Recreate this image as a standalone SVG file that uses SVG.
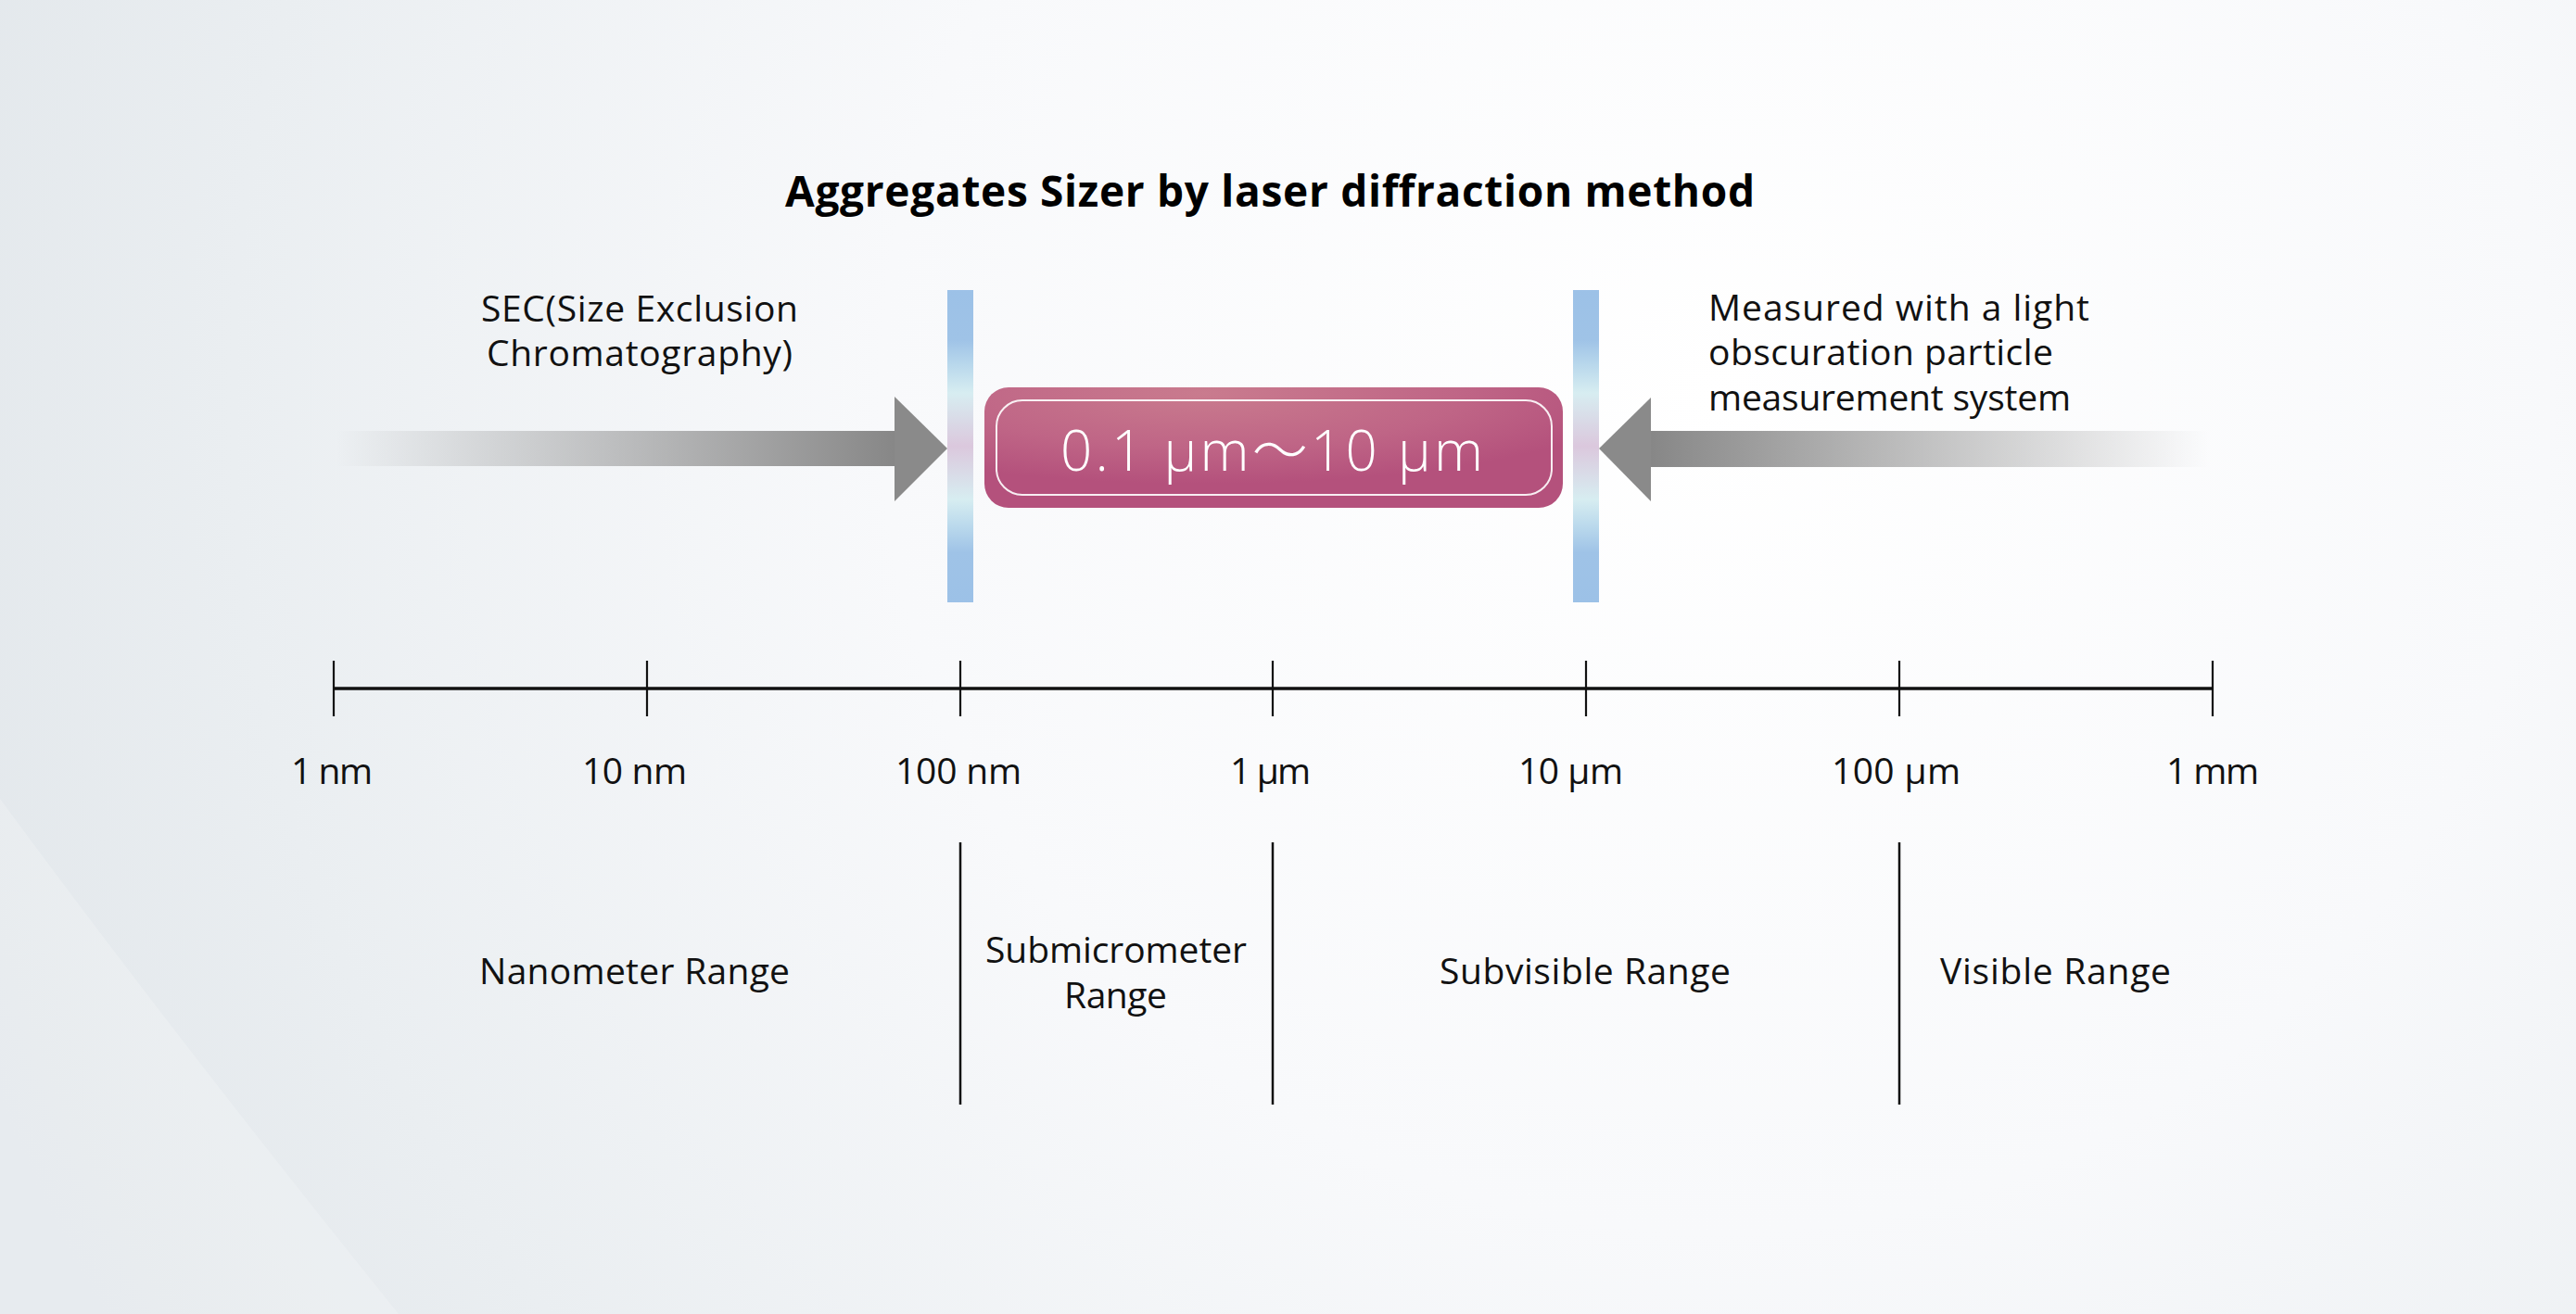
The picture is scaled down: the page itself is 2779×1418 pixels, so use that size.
<svg xmlns="http://www.w3.org/2000/svg" width="2779" height="1418" viewBox="0 0 2779 1418">
  <defs>
    <style>
      .lbl { font-family: "Open Sans", "Noto Sans", "DejaVu Sans", sans-serif; font-size: 39px; fill: #111111; }
      .title { font-family: "Open Sans", "Noto Sans", "DejaVu Sans", sans-serif; font-size: 46px; font-weight: bold; fill: #000000; }
      .boxtxt { font-family: "Open Sans", "Noto Sans", "Noto Sans CJK JP", sans-serif; font-size: 60px; font-weight: 300; fill: #ffffff; }
      .tick { stroke: #111111; stroke-width: 2.2; }
      .sep { stroke: #111111; stroke-width: 2.5; }
    </style>
    <radialGradient id="bgGrad" gradientUnits="userSpaceOnUse" cx="1850" cy="430" r="2000">
      <stop offset="0" stop-color="#ffffff"/>
      <stop offset="0.45" stop-color="#f8f9fb"/>
      <stop offset="0.8" stop-color="#eaeef1"/>
      <stop offset="1" stop-color="#e2e7eb"/>
    </radialGradient>
    <linearGradient id="shaftL" gradientUnits="userSpaceOnUse" x1="363" y1="0" x2="965" y2="0">
      <stop offset="0" stop-color="#878787" stop-opacity="0"/>
      <stop offset="1" stop-color="#878787" stop-opacity="1"/>
    </linearGradient>
    <linearGradient id="shaftR" gradientUnits="userSpaceOnUse" x1="2382" y1="0" x2="1781" y2="0">
      <stop offset="0" stop-color="#878787" stop-opacity="0"/>
      <stop offset="1" stop-color="#878787" stop-opacity="1"/>
    </linearGradient>
    <linearGradient id="barGrad" x1="0" y1="0" x2="0" y2="1">
      <stop offset="0" stop-color="#9cc1e7"/>
      <stop offset="0.16" stop-color="#9fc3e7"/>
      <stop offset="0.24" stop-color="#b9d8ec"/>
      <stop offset="0.33" stop-color="#d7edf1"/>
      <stop offset="0.5" stop-color="#dbc8dd"/>
      <stop offset="0.67" stop-color="#d7edf1"/>
      <stop offset="0.76" stop-color="#b9d8ec"/>
      <stop offset="0.84" stop-color="#9fc3e7"/>
      <stop offset="1" stop-color="#9cc1e7"/>
    </linearGradient>
    <radialGradient id="boxGrad" cx="0.38" cy="0.05" r="0.75">
      <stop offset="0" stop-color="#c97b8e"/>
      <stop offset="0.6" stop-color="#bf6586"/>
      <stop offset="1" stop-color="#b4517c"/>
    </radialGradient>
  </defs>

  <g id="background">
    <rect x="0" y="0" width="2779" height="1418" fill="url(#bgGrad)"/>
    <path d="M0 862 Q 190 1120 430 1418 L 0 1418 Z" fill="#ffffff" fill-opacity="0.2"/>
  </g>

  <g id="title">
    <text class="title" x="847" y="223" textLength="1046">Aggregates Sizer by laser diffraction method</text>
  </g>

  <g id="sec-label">
    <text class="lbl"><tspan x="519" y="347" textLength="342">SEC(Size Exclusion</tspan><tspan x="525" y="395" textLength="330">Chromatography)</tspan></text>
  </g>

  <g id="obscuration-label">
    <text class="lbl"><tspan x="1843" y="346" textLength="411">Measured with a light</tspan><tspan x="1843" y="394" textLength="372">obscuration particle</tspan><tspan x="1843" y="443" textLength="391">measurement system</tspan></text>
  </g>

  <g id="connectors">
    <g id="arrow-left">
      <rect x="363" y="465" width="603" height="38" fill="url(#shaftL)"/>
      <polygon points="965,428 1022,484 965,541" fill="#8a8a8a"/>
    </g>
    <g id="arrow-right">
      <rect x="1780" y="465" width="602" height="39" fill="url(#shaftR)"/>
      <polygon points="1781,429 1725,484 1781,541" fill="#8a8a8a"/>
    </g>
  </g>

  <g id="bar-left">
    <rect x="1022" y="313" width="28" height="337" fill="url(#barGrad)"/>
  </g>
  <g id="bar-right">
    <rect x="1697" y="313" width="28" height="337" fill="url(#barGrad)"/>
  </g>

  <g id="range-box">
    <rect x="1062" y="418" width="624" height="130" rx="26" ry="26" fill="url(#boxGrad)"/>
    <rect x="1075" y="432" width="599" height="102" rx="28" ry="28" fill="none" stroke="#ffffff" stroke-width="2" stroke-opacity="0.9"/>
    <text class="boxtxt" x="1144" y="508" textLength="456">0.1 μm～10 μm</text>
  </g>

  <g id="axis">
    <line x1="360" y1="743" x2="2387" y2="743" stroke="#111111" stroke-width="3.5"/>
    <line class="tick" x1="360" y1="713" x2="360" y2="773"/>
    <line class="tick" x1="698" y1="713" x2="698" y2="773"/>
    <line class="tick" x1="1036" y1="713" x2="1036" y2="773"/>
    <line class="tick" x1="1373" y1="713" x2="1373" y2="773"/>
    <line class="tick" x1="1711" y1="713" x2="1711" y2="773"/>
    <line class="tick" x1="2049" y1="713" x2="2049" y2="773"/>
    <line class="tick" x1="2387" y1="713" x2="2387" y2="773"/>
  </g>

  <g id="tick-labels">
    <text class="lbl" x="314" y="846" textLength="88">1 nm</text>
    <text class="lbl" x="628" y="846" textLength="113">10 nm</text>
    <text class="lbl" x="966" y="846" textLength="136">100 nm</text>
    <text class="lbl" x="1327" y="846" textLength="87">1 μm</text>
    <text class="lbl" x="1638" y="846" textLength="113">10 μm</text>
    <text class="lbl" x="1976" y="846" textLength="139">100 μm</text>
    <text class="lbl" x="2337" y="846" textLength="100">1 mm</text>
  </g>

  <g id="range-separators">
    <line class="sep" x1="1036" y1="909" x2="1036" y2="1192"/>
    <line class="sep" x1="1373" y1="909" x2="1373" y2="1192"/>
    <line class="sep" x1="2049" y1="909" x2="2049" y2="1192"/>
  </g>

  <g id="range-nanometer">
    <text class="lbl" x="517" y="1062" textLength="335">Nanometer Range</text>
  </g>
  <g id="range-submicrometer">
    <text class="lbl"><tspan x="1063" y="1039" textLength="282">Submicrometer</tspan><tspan x="1148" y="1088" textLength="111">Range</tspan></text>
  </g>
  <g id="range-subvisible">
    <text class="lbl" x="1553" y="1062" textLength="314">Subvisible Range</text>
  </g>
  <g id="range-visible">
    <text class="lbl" x="2093" y="1062" textLength="249">Visible Range</text>
  </g>
</svg>
